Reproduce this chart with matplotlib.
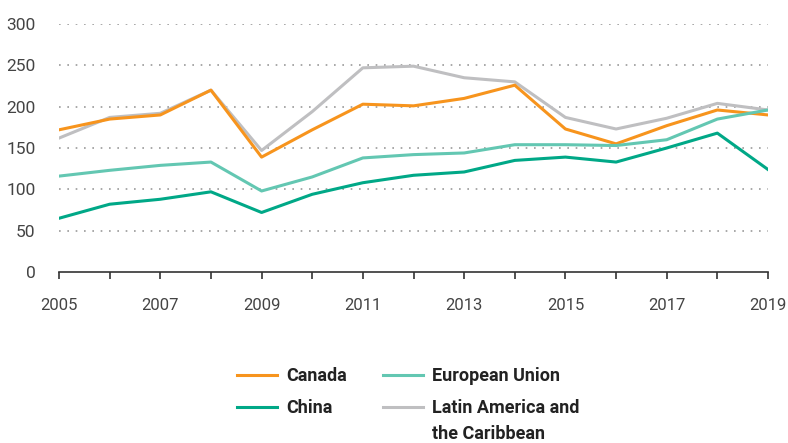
import matplotlib
matplotlib.use("Agg")
import matplotlib.pyplot as plt

years = list(range(2005, 2020))
canada = [172, 185, 190, 220, 139, 172, 203, 201, 210, 226, 173, 155, 177, 196, 190]
china = [65, 82, 88, 97, 72, 94, 108, 117, 121, 135, 139, 133, 150, 168, 124]
eu = [116, 123, 129, 133, 98, 115, 138, 142, 144, 154, 154, 153, 160, 185, 196]
lac = [162, 187, 192, 220, 147, 194, 247, 249, 235, 230, 187, 173, 186, 204, 196]
year_labels = [str(y) if y % 2 == 1 else "" for y in years]

plt.rcParams["font.family"] = ["Roboto", "DejaVu Sans"]

fig = plt.figure(figsize=(7.88, 4.43), dpi=100)
ax = fig.add_axes([0.0749, 0.386, 0.8997, 0.5598])

lw = 2.2
l1, = ax.plot(years, canada, color="#F7941D", lw=lw, label="Canada")
l2, = ax.plot(years, china, color="#00A887", lw=lw, label="China")
l3, = ax.plot(years, eu, color="#63C7B2", lw=lw, label="European Union")
l4, = ax.plot(years, lac, color="#BFBFC1", lw=lw, label="Latin America and")
l4.set_zorder(1.9)

ax.set_xlim(2005, 2019)
ax.set_ylim(0, 300)
ax.set_yticks(range(0, 301, 50))
ax.set_xticks(years)
ax.set_xticklabels(year_labels)

for v in range(50, 301, 50):
    ax.axhline(v, color="#9A9A9A", lw=1.2, ls=(0, (1, 4)), zorder=0)

for s in ["top", "right", "left"]:
    ax.spines[s].set_visible(False)
ax.spines["bottom"].set_color("#333333")
ax.spines["bottom"].set_linewidth(1.2)
ax.tick_params(axis="x", length=5, width=1.2, color="#333333", pad=14,
               labelsize=12, labelcolor="#444444")
ax.tick_params(axis="y", length=0, pad=17, labelsize=12.5, labelcolor="#444444")

leg_font = {"size": 13, "weight": "bold"}
leg = fig.legend(handles=[l1, l2, l3, l4], ncol=2, loc="upper left",
                 bbox_to_anchor=(0.292, 0.188), frameon=False,
                 prop=leg_font, handlelength=2.2, handletextpad=0.5,
                 columnspacing=2.0, labelspacing=0.8, borderaxespad=0)
for t in leg.get_texts():
    t.set_color("#222222")
for h in leg.legend_handles:
    h.set_linewidth(2.2)

# second line of the last label, placed under the first
fig.canvas.draw()
bb = leg.get_texts()[3].get_window_extent()
x0, y0 = fig.transFigure.inverted().transform((bb.x0, bb.y0))
fig.text(x0, y0 - 26 / 443, "the Caribbean", color="#222222",
         fontsize=13, fontweight="bold", ha="left", va="bottom")

fig.savefig("out.png", dpi=100)
